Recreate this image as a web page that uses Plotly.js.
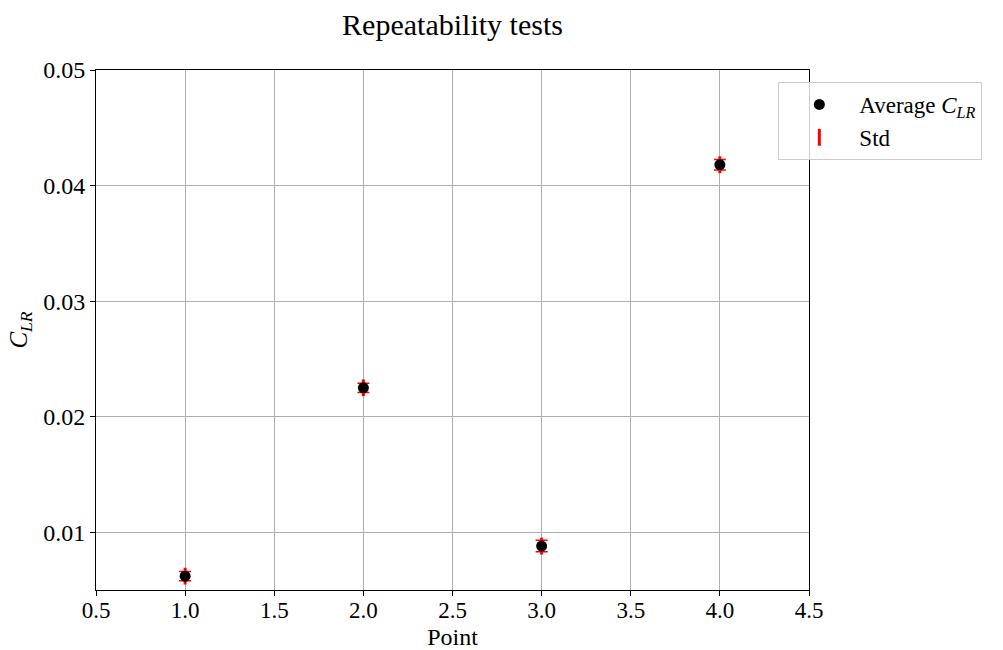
<!DOCTYPE html>
<html>
<head>
<meta charset="utf-8">
<script src="https://cdn.plot.ly/plotly-3.0.1.min.js"></script>
<style>body{margin:0;padding:0;background:#fff;}#chart{width:1003px;height:650px;}</style>
</head>
<body>
<div id="chart"></div>
<script>
var points = [1, 2, 3, 4];
var avgCLR = [0.0062, 0.0225, 0.0088, 0.0418];
var stdCLR = [0.0004, 0.0004, 0.0005, 0.00045];
var xTicks = [0.5, 1.0, 1.5, 2.0, 2.5, 3.0, 3.5, 4.0, 4.5];
var yTicks = [0.01, 0.02, 0.03, 0.04, 0.05];

var fontFam = '"Liberation Serif", "DejaVu Serif", serif';

var stdTrace = {
  x: points, y: avgCLR, type: 'scatter', mode: 'markers', name: 'Std',
  marker: {symbol: 'line-ns', size: 12, color: 'red', line: {color: 'red', width: 3}},
  error_y: {type: 'data', array: stdCLR, visible: true, color: 'red', thickness: 1.5, width: 6},
  cliponaxis: false, legendrank: 2
};
var avgTrace = {
  x: points, y: avgCLR, type: 'scatter', mode: 'markers', name: 'Average <i>C</i><sub><i>LR</i></sub>',
  marker: {symbol: 'circle', size: 11, color: 'black'},
  cliponaxis: false, legendrank: 1
};

var layout = {
  width: 1003, height: 650,
  margin: {l: 96, r: 194, t: 70, b: 60},
  paper_bgcolor: 'white', plot_bgcolor: 'white',
  font: {family: fontFam, size: 23, color: 'black'},
  title: {text: 'Repeatability tests', x: 0.5, xref: 'paper', y: 0.962, yanchor: 'middle', font: {family: fontFam, size: 30, color: 'black'}},
  xaxis: {
    range: [0.5, 4.5], tickvals: xTicks, ticktext: xTicks.map(function(v){return v.toFixed(1);}),
    showgrid: true, gridcolor: '#b0b0b0', gridwidth: 1,
    showline: true, linecolor: 'black', linewidth: 1, mirror: true,
    ticks: 'outside', ticklen: 5, tickcolor: 'black', zeroline: false,
    ticklabelstandoff: -6,
    tickfont: {family: fontFam, size: 23},
    title: {text: 'Point', font: {family: fontFam, size: 24}, standoff: 8}
  },
  yaxis: {
    range: [0.005, 0.05], tickvals: yTicks, ticktext: yTicks.map(function(v){return v.toFixed(2);}),
    showgrid: true, gridcolor: '#b0b0b0', gridwidth: 1,
    showline: true, linecolor: 'black', linewidth: 1, mirror: true,
    ticks: 'outside', ticklen: 5, tickcolor: 'black', zeroline: false,
    tickfont: {family: fontFam, size: 24},
    title: {text: '<i>C</i><sub><i>LR</i></sub>', font: {family: fontFam, size: 25}, standoff: 8}
  },
  showlegend: true,
  legend: {
    x: 0.957, y: 0.977, xanchor: 'left', yanchor: 'top', xref: 'paper', yref: 'paper',
    bgcolor: 'rgba(255,255,255,0.8)', bordercolor: '#cccccc', borderwidth: 1,
    font: {family: fontFam, size: 23}, traceorder: 'normal', tracegroupgap: 0,
    itemwidth: 70
  }
};

Plotly.newPlot('chart', [stdTrace, avgTrace], layout, {displayModeBar: false, staticPlot: true});
</script>
</body>
</html>
